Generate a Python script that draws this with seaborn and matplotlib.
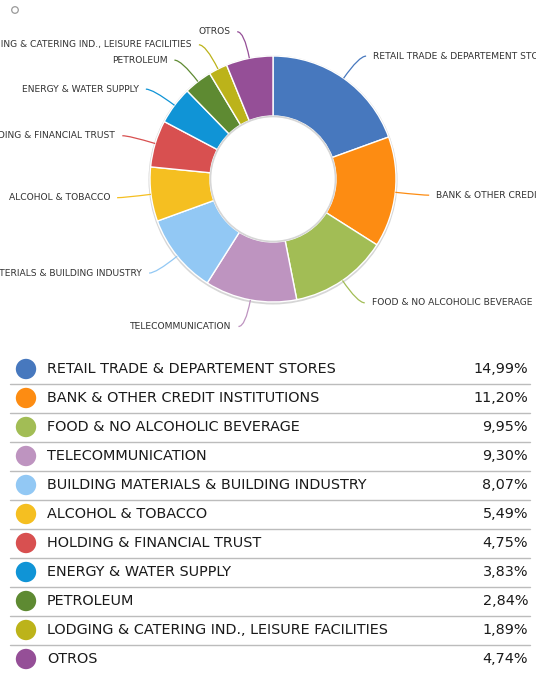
import numpy as np
import pandas as pd
import matplotlib
matplotlib.use("Agg")
import matplotlib.pyplot as plt
from matplotlib.patches import Circle, PathPatch
from matplotlib.path import Path
import seaborn as sns

sectors = [
    "RETAIL TRADE & DEPARTEMENT STORES",
    "BANK & OTHER CREDIT INSTITUTIONS",
    "FOOD & NO ALCOHOLIC BEVERAGE",
    "TELECOMMUNICATION",
    "BUILDING MATERIALS & BUILDING INDUSTRY",
    "ALCOHOL & TOBACCO",
    "HOLDING & FINANCIAL TRUST",
    "ENERGY & WATER SUPPLY",
    "PETROLEUM",
    "LODGING & CATERING IND., LEISURE FACILITIES",
    "OTROS",
]
weights = [14.99, 11.20, 9.95, 9.30, 8.07, 5.49, 4.75, 3.83, 2.84, 1.89, 4.74]
pct_labels = ["14,99%", "11,20%", "9,95%", "9,30%", "8,07%", "5,49%",
              "4,75%", "3,83%", "2,84%", "1,89%", "4,74%"]
colors = ["#4778BE", "#FD8C12", "#A2BD55", "#BE94C0", "#92C8F4", "#F5BF21",
          "#D85050", "#1094D6", "#5E8A32", "#BCB31A", "#954F97"]

W, H = 536, 673
sns.set_theme(style="white")
plt.rcParams["font.family"] = ["DejaVu Sans"]

fig = plt.figure(figsize=(W / 100, H / 100), dpi=100)
ax = fig.add_axes([0, 0, 1, 1])

# donut geometry (pixel space, y downward)
cx, cy = 273, 179
R, r = 123, 63

# faint shadow ring around the donut
ax.add_patch(Circle((cx, cy + 1), R + 1.5, facecolor="#d6d6d6", edgecolor="none", zorder=1))

# y axis is inverted, so counterclock=True runs clockwise on screen
wedges, _ = ax.pie(
    weights, colors=colors, radius=R, center=(cx, cy),
    startangle=-90, counterclock=True,
    wedgeprops=dict(width=R - r, edgecolor="white", linewidth=1.0),
    frame=True,
)
for w in wedges:
    w.set_zorder(2)
ax.add_patch(Circle((cx, cy), r - 0.5, facecolor="white", edgecolor="#d6d6d6", linewidth=1.2, zorder=3))

# outside labels with curved leader lines
total = sum(weights)
cum = np.cumsum([0] + weights)
for i, (name, col) in enumerate(zip(sectors, colors)):
    mid = (cum[i] + weights[i] / 2) / total * 2 * np.pi  # clockwise from top
    sx, sy = np.sin(mid), -np.cos(mid)
    px, py = cx + R * sx, cy + R * sy
    bx, by = cx + 1.22 * R * sx, cy + 1.22 * R * sy
    side = 1 if sx >= 0 else -1
    ex, ey = bx + side * 7, by
    path = Path([(px, py), (bx, by), (ex, ey)], [Path.MOVETO, Path.CURVE3, Path.CURVE3])
    ax.add_patch(PathPatch(path, facecolor="none", edgecolor=col, linewidth=0.9, zorder=2))
    ax.text(ex + side * 7, ey, name, fontsize=6.6, color="#333333",
            ha="left" if side > 0 else "right", va="center", zorder=4)

# small hollow marker in the corner
ax.add_patch(Circle((15, 10), 3.3, facecolor="none", edgecolor="#9a9a9a", linewidth=0.9))

# legend table
row0, step = 369, 29
rows = pd.DataFrame({
    "sector": sectors,
    "x": 26.0,
    "y": [row0 + k * step for k in range(len(sectors))],
})
sns.scatterplot(data=rows, x="x", y="y", hue="sector", palette=colors,
                s=215, edgecolor="none", legend=False, ax=ax, zorder=5)
for k, (name, pct) in enumerate(zip(sectors, pct_labels)):
    y = row0 + k * step
    ax.text(47, y, name, fontsize=10.4, color="#1a1a1a", ha="left", va="center")
    ax.text(528, y, pct, fontsize=10.4, color="#1a1a1a", ha="right", va="center")
    if k < len(sectors) - 1:
        ax.plot([10, 530], [y + 15, y + 15], color="#bcbcbc", linewidth=1.0)

ax.set_xlim(0, W)
ax.set_ylim(H, 0)
ax.set_aspect("equal")
ax.set_axis_off()
fig.savefig("out.png", dpi=100)
